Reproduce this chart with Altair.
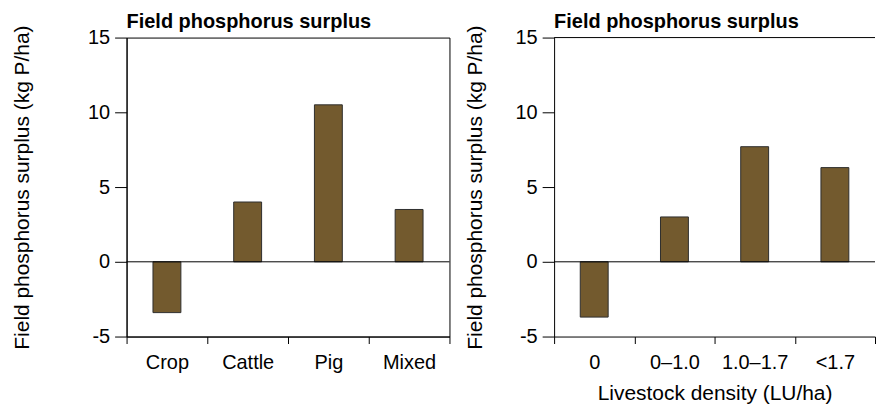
import altair as alt
import pandas as pd

# Field phosphorus surplus by farm type and by livestock density
farm_types = ["Crop", "Cattle", "Pig", "Mixed"]
farm_surplus = [-3.4, 4.0, 10.5, 3.5]

density_classes = ["0", "0–1.0", "1.0–1.7", "<1.7"]
density_surplus = [-3.7, 3.0, 7.7, 6.3]

y_ticks = [-5, 0, 5, 10, 15]

FONT = "Liberation Sans"
BAR_FILL = "#735a2e"
BAR_STROKE = "#2e2e2e"


def panel(categories, values, width, x_title, boxed, y_title_pad):
    df = pd.DataFrame({"cat": categories, "val": values})
    x_axis_kw = dict(
        tickBand="extent", labelAngle=0, tickSize=7, labelPadding=9,
        labelFontSize=20, titleFontSize=21, titlePadding=10,
    )
    if x_title:
        x_axis = alt.Axis(title=x_title, **x_axis_kw)
    else:
        x_axis = alt.Axis(title=None, **x_axis_kw)

    bars = alt.Chart(df).mark_bar(
        size=28, fill=BAR_FILL, stroke=BAR_STROKE, strokeWidth=1
    ).encode(
        x=alt.X("cat:N", sort=categories,
                scale=alt.Scale(paddingInner=0, paddingOuter=0), axis=x_axis),
        y=alt.Y("val:Q",
                scale=alt.Scale(domain=[-5, 15], nice=False, zero=False),
                axis=alt.Axis(values=y_ticks, title="Field phosphorus surplus (kg P/ha)",
                              labelExpr="'' + datum.value", tickSize=12,
                              labelPadding=5, labelFontSize=20,
                              titleFontSize=21, titlePadding=y_title_pad)),
    )
    zero_line = alt.Chart(pd.DataFrame({"v": [0]})).mark_rule(
        color="black", strokeWidth=1
    ).encode(y=alt.Y("v:Q"))
    layers = [bars, zero_line]
    if not boxed:
        top_line = alt.Chart(pd.DataFrame({"v": [15]})).mark_rule(
            color="black", strokeWidth=1
        ).encode(y=alt.Y("v:Q"))
        layers.append(top_line)
    chart = alt.layer(*layers).properties(
        width=width, height=300,
        title=alt.TitleParams("Field phosphorus surplus", frame="group"),
    )
    if boxed:
        chart = chart.properties(view=alt.ViewBackground(stroke="black", strokeWidth=1))
    return chart


left = panel(farm_types, farm_surplus, 324, None, True, 55)
right = panel(density_classes, density_surplus, 322, "Livestock density (LU/ha)", False, 30)

chart = alt.hconcat(left, right, spacing=13).properties(
    padding={"left": 11, "top": 10, "right": 0, "bottom": 0}
).configure_view(
    stroke="transparent"
).configure_axis(
    domainColor="black", tickColor="black", labelColor="black", titleColor="black",
    labelFont=FONT, titleFont=FONT, titleFontWeight="normal", grid=False,
    domainWidth=1, tickWidth=1,
).configure_title(
    font=FONT, fontSize=20, fontWeight="bold", anchor="start", color="black", offset=-7,
)

chart.save("out.html", embed_options={"renderer": "svg", "actions": False})
